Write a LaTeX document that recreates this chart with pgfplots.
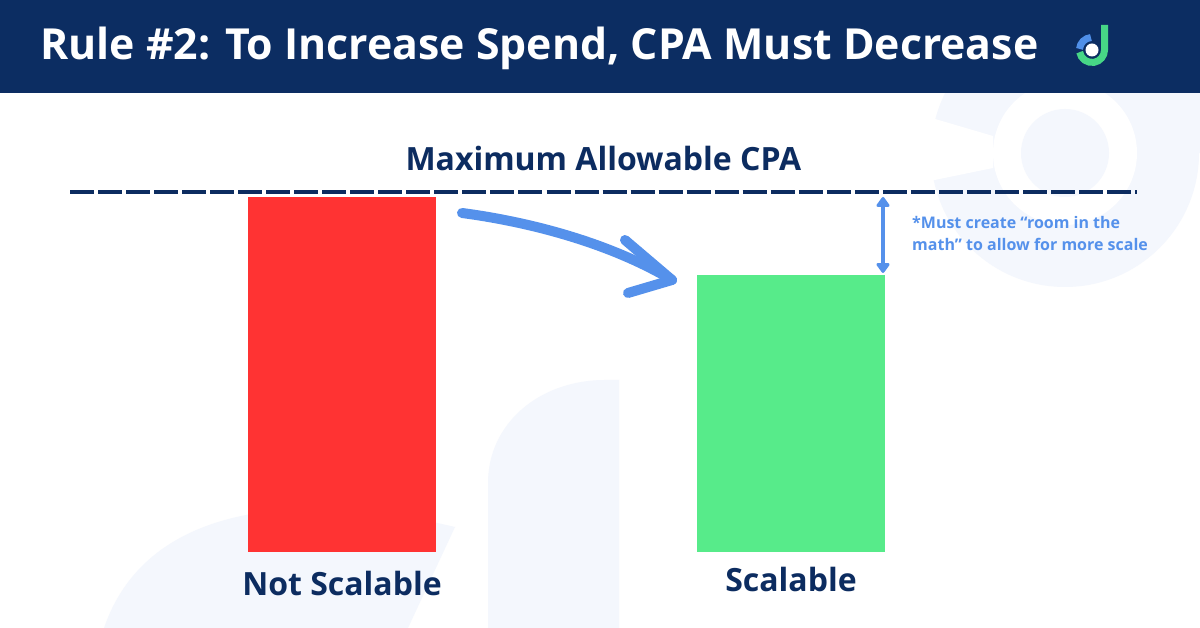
\documentclass[border=0pt]{standalone}
\usepackage{pgfplots}
\pgfplotsset{compat=1.18}
\usetikzlibrary{arrows.meta}
\usepackage{fontspec}
\setmainfont{Open Sans}
\definecolor{navy}{HTML}{0C2C60}
\definecolor{hdr}{HTML}{0C2D62}
\definecolor{barred}{HTML}{FF3333}
\definecolor{bargreen}{HTML}{57EB8A}
\definecolor{accent}{HTML}{5591EB}
\definecolor{wm}{HTML}{F4F7FD}
\definecolor{logoblue}{HTML}{4F8FE8}
\definecolor{logogreen}{HTML}{47D686}
\begin{document}
\begin{tikzpicture}[x=1pt,y=1pt]
% background
\fill[white] (0,0) rectangle (1200,628);
% faint watermark shapes
\fill[wm] (1065,475) circle[radius=134];
\fill[white] (1065,475) circle[radius=72];
\fill[wm] (1065,475) circle[radius=44];
\fill[wm] (1137,475) rectangle (1200,535);
\fill[white] (925,512) -- (993,492) -- (993,460) -- (925,446) -- cycle;
\fill[wm] (104,0) .. controls (145,120) and (290,140) .. (455,101) -- (408,0) -- cycle;
\fill[wm] (488,0) -- (488,145) .. controls (488,205) and (540,248) .. (605,248) -- (619,248) -- (619,0) -- cycle;
% header
\fill[hdr] (0,535) rectangle (1200,628);
\node[anchor=base west, text=white, inner sep=0, font=\fontsize{42.8}{52}\selectfont\bfseries] at (40,568) {Rule \#2: To Increase Spend, CPA Must Decrease};
% logo
\draw[logogreen, line width=7pt] (1092,578) ++(190:12.5) arc[start angle=190, end angle=360, radius=12.5] -- (1104.5,603);
\draw[logoblue, line width=7pt] (1092,578) ++(175:12.5) arc[start angle=175, end angle=95, radius=12.5];
\fill[white] (1092,578) circle[radius=6.5];
% chart
\begin{axis}[
  at={(70pt,76pt)}, anchor=south west,
  scale only axis, width=1067pt, height=360pt,
  xmin=-0.6058, xmax=1.7706, ymin=0, ymax=100,
  clip=false,
  axis line style={draw=none},
  ytick=\empty,
  xtick={0,1},
  xticklabels={Not Scalable,\raisebox{4pt}{Scalable}},
  major tick length=0pt,
  xticklabel style={anchor=base, yshift=-44pt, inner sep=0pt, text=navy,
    font=\fontsize{32}{38}\selectfont\bfseries},
]
\addplot[ybar, bar width=188pt, bar shift=0pt, fill=barred, draw=none] coordinates {(0,98.6)};
\addplot[ybar, bar width=188pt, bar shift=0pt, fill=bargreen, draw=none] coordinates {(1,76.9)};
\addplot[navy, line width=4pt, dash pattern=on 24pt off 4.03pt] coordinates {(-0.6058,100) (1.7706,100)};
\node[anchor=base, text=navy, inner sep=0, font=\fontsize{32}{38}\selectfont\bfseries] at (axis cs:0.582,100) [yshift=21pt] {Maximum Allowable CPA};
\end{axis}
% annotation arrows and text
\draw[accent, line width=3.5pt, {Triangle[width=15pt,length=11pt,round]}-{Triangle[width=15pt,length=11pt,round]}] (883,431) -- (883,355);
\node[anchor=base west, inner sep=0, text=accent, font=\fontsize{16}{22}\selectfont\bfseries] at (912,399) {*Must create “room in the};
\node[anchor=base west, inner sep=0, text=accent, font=\fontsize{16}{22}\selectfont\bfseries] at (912,377) {math” to allow for more scale};
\draw[accent, line width=10pt, line cap=round, line join=round] (462,415) .. controls (530,406) and (610,385) .. (672,348);
\draw[accent, line width=10pt, line cap=round, line join=round] (625,388) -- (672,348) -- (628,335);
\end{tikzpicture}
\end{document}
